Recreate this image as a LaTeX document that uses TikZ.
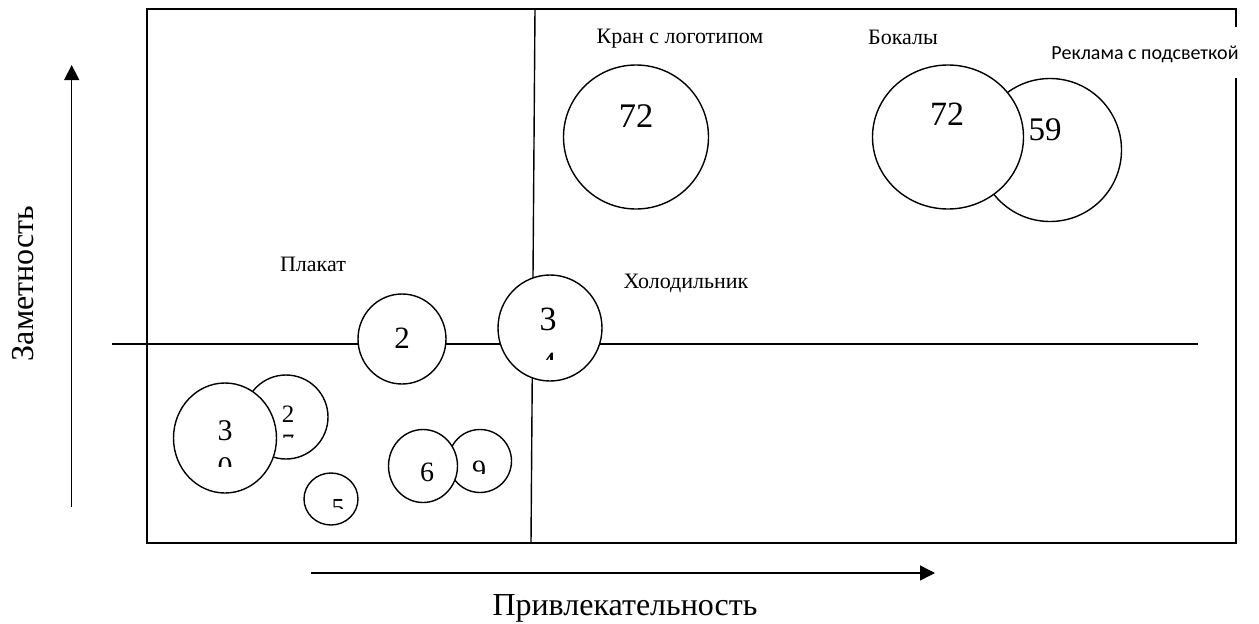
\documentclass[tikz,border=0pt]{standalone}
\usepackage{fontspec}
\setmainfont{Liberation Serif}
\newfontfamily\calib{Carlito}
\usetikzlibrary{arrows.meta,shapes.geometric}
\tikzset{
  ln/.style={line width=1.4pt},
  bub/.style={ellipse,draw,line width=1.4pt,fill=white,inner sep=0pt},
  lbl/.style={anchor=base,inner sep=0pt,font=\fontsize{22}{26}\selectfont},
  dig/.style={anchor=base,inner sep=0pt,font=\fontsize{#1}{#1}\selectfont},
  arr/.style={line width=1.4pt,-{Triangle[length=15pt,width=15pt]}}
}
\begin{document}
\begin{tikzpicture}[x=1pt,y=-1pt]
\useasboundingbox (0,0) rectangle (1259,624);
% frame
\coordinate (f1) at (1236,27);
\coordinate (f2) at (1236,9);
\coordinate (f3) at (147,9);
\coordinate (f4) at (147,543);
\coordinate (f5) at (1236,543);
\coordinate (f6) at (1236,78);
\draw[ln] (f1) -- (f2) -- (f3) -- (f4) -- (f5) -- (f6);
% quadrant lines
\coordinate (vt) at (535,9);
\coordinate (vb) at (531,543);
\draw[ln] (vt) -- (vb);
\coordinate (hl) at (112,344);
\coordinate (hr) at (1198,344);
\draw[ln] (hl) -- (hr);
% axes
\coordinate (ya) at (71.7,507);
\coordinate (yb) at (71.7,65);
\draw[arr] (ya) -- (yb);
\coordinate (xa) at (311,573);
\coordinate (xb) at (935,573);
\draw[arr] (xa) -- (xb);
\node[rotate=90,anchor=base,inner sep=0pt,font=\fontsize{32}{38}\selectfont] (ylab) at (33,283.5) {Заметность};
\node[anchor=base,inner sep=0pt,font=\fontsize{32}{38}\selectfont] (xlab) at (625,615) {Привлекательность};
% upper right bubbles
\node[bub,minimum width=145pt,minimum height=144pt] (kran) at (636,137) {};
\node[bub,minimum width=143pt,minimum height=143pt] (rekl) at (1050,150) {};
\node[bub,minimum width=151pt,minimum height=144pt] (bok) at (948,137) {};
\node[dig=34.5] (t72a) at (636,127) {72};
\node[dig=34] (t72b) at (947,125) {72};
\node[dig=33] (t59) at (1045,140) {59};
\node[lbl] (lkran) at (680,43) {Кран с логотипом};
\node[lbl] (lbok) at (903,44) {Бокалы};
\node[anchor=base,inner sep=0pt,font=\calib\fontsize{20}{24}\selectfont] (lrekl) at (1145,59) {Реклама с подсветкой};
% middle bubbles
\node[bub,minimum width=104pt,minimum height=106pt] (hol) at (550,328) {};
\node[dig=34] (t3a) at (548,330) {3};
\begin{scope}
\clip (500,340) rectangle (600,359);
\node[dig=34] (t4) at (548,375) {4};
\end{scope}
\node[lbl] (lhol) at (686,288) {Холодильник};
\node[bub,minimum width=88pt,minimum height=90pt] (plak) at (402,339) {};
\node[dig=31] (t2a) at (402,348) {2};
\node[lbl] (lplak) at (313,271) {Плакат};
% lower left bubbles
\node[bub,minimum width=84pt,minimum height=84pt] (b2) at (286,417) {};
\node[dig=25] (t2b) at (288,422) {2};
\begin{scope}
\clip (260,428) rectangle (320,437);
\node[dig=25] (t7) at (288,451) {7};
\end{scope}
\node[bub,minimum width=103pt,minimum height=110pt] (b30) at (225,438) {};
\node[dig=30] (t3b) at (225,440) {3};
\begin{scope}
\clip (190,448) rectangle (260,466);
\node[dig=30] (t0) at (225,477) {0};
\end{scope}
\node[bub,minimum width=54pt,minimum height=52pt] (b5) at (331,499) {};
\begin{scope}
\clip (310,490) rectangle (355,508);
\node[dig=26] (t5) at (338,516) {5};
\end{scope}
\node[bub,minimum width=63pt,minimum height=63pt] (b9) at (480,461) {};
\begin{scope}
\clip (455,450) rectangle (505,473);
\node[dig=28] (t9) at (479,479) {9};
\end{scope}
\node[bub,minimum width=69pt,minimum height=73pt] (b6) at (423,466) {};
\node[dig=28] (t6) at (427,481) {6};
\end{tikzpicture}
\end{document}
